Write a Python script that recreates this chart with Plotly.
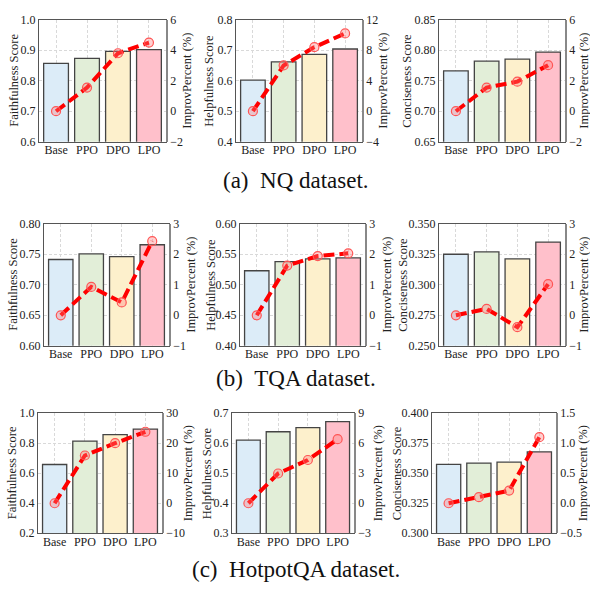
import plotly.graph_objects as go

methods = ["Base", "PPO", "DPO", "LPO"]

# NQ
nq_faith = [0.857, 0.873, 0.896, 0.902]
nq_faith_imp = [0.0, 1.55, 3.8, 4.5]
nq_help = [0.602, 0.662, 0.686, 0.704]
nq_help_imp = [0.0, 6.0, 8.4, 10.2]
nq_conc = [0.766, 0.782, 0.7855, 0.797]
nq_conc_imp = [0.0, 1.55, 1.94, 3.02]
# TQA
tqa_faith = [0.7414, 0.7505, 0.746, 0.7656]
tqa_faith_imp = [0.0, 0.93, 0.42, 2.43]
tqa_help = [0.523, 0.538, 0.5425, 0.544]
tqa_help_imp = [0.0, 1.63, 1.94, 2.03]
tqa_conc = [0.325, 0.3269, 0.3212, 0.335]
tqa_conc_imp = [0.0, 0.21, -0.39, 1.02]
# HotpotQA
hqa_faith = [0.658, 0.814, 0.857, 0.894]
hqa_faith_imp = [0.0, 15.9, 20.0, 23.8]
hqa_help = [0.610, 0.638, 0.652, 0.672]
hqa_help_imp = [0.0, 2.97, 4.32, 6.4]
hqa_conc = [0.3573, 0.3584, 0.3592, 0.3678]
hqa_conc_imp = [0.0, 0.10, 0.21, 1.10]

bar_colors = ["#dcecf8", "#e2eed8", "#fdf0cc", "#ffc0cb"]

panels = [
    (nq_faith, nq_faith_imp, "Faithfulness Score", [0.6, 1.0], 0.1, [-2, 6], 2, ".1f", "d"),
    (nq_help, nq_help_imp, "Helpfulness Score", [0.4, 0.8], 0.1, [-4, 12], 4, ".1f", "d"),
    (nq_conc, nq_conc_imp, "Conciseness Score", [0.65, 0.85], 0.05, [-2, 6], 2, ".2f", "d"),
    (tqa_faith, tqa_faith_imp, "Faithfulness Score", [0.6, 0.8], 0.05, [-1, 3], 1, ".2f", "d"),
    (tqa_help, tqa_help_imp, "Helpfulness Score", [0.4, 0.6], 0.05, [-1, 3], 1, ".2f", "d"),
    (tqa_conc, tqa_conc_imp, "Conciseness Score", [0.25, 0.35], 0.025, [-1, 3], 1, ".3f", "d"),
    (hqa_faith, hqa_faith_imp, "Faithfulness Score", [0.2, 1.0], 0.2, [-10, 30], 10, ".1f", "d"),
    (hqa_help, hqa_help_imp, "Helpfulness Score", [0.3, 0.7], 0.1, [-3, 9], 3, ".1f", "d"),
    (hqa_conc, hqa_conc_imp, "Conciseness Score", [0.3, 0.4], 0.025, [-0.5, 1.5], 0.5, ".3f", ".1f"),
]

W, H = 590, 592
# pixel boxes: x0, x1, y0(top), y1(bottom)
boxes = [
    (39, 166, 13, 138), (236, 362, 13, 138), (439, 565, 13, 138),
    (44, 169, 222, 347), (240, 365, 222, 347), (439, 565, 222, 347),
    (38, 162, 416, 539), (232, 354, 416, 539), (432, 556, 416, 539),
]
# axis title x positions (left, right) in pixels
title_x = [
    (14, 187), (209, 383), (407, 584),
    (13, 191), (211, 387), (403, 584),
    (12, 188), (207, 378), (397, 583),
]

FONT = "Liberation Serif"
tickfont = dict(family=FONT, size=12, color="#222222")
titlefont = dict(family=FONT, size=12.5, color="#222222")
fig = go.Figure()
layout = {}
annotations = []
for i, (vals, imp, ytitle, lr, ldt, rr, rdt, lfmt, rfmt) in enumerate(panels):
    n = i + 1
    xa = f"x{n}"
    ya = f"y{2*n-1}"
    yb = f"y{2*n}"
    x0, x1, t, b = boxes[i]
    xdom = [x0 / W, x1 / W]
    ydom = [1 - b / H, 1 - t / H]
    fig.add_trace(go.Bar(
        x=methods, y=vals, xaxis=xa, yaxis=ya, width=0.8,
        marker=dict(color=bar_colors, line=dict(color="#444444", width=1.3)),
        showlegend=False,
    ))
    fig.add_trace(go.Scatter(
        x=methods, y=imp, xaxis=xa, yaxis=yb, mode="lines+markers",
        line=dict(color="#ff0000", width=4, dash="11px,5px"),
        marker=dict(symbol="circle", size=9, color="rgba(255,120,120,0.35)",
                    line=dict(color="#ff5555", width=1.2)),
        showlegend=False,
    ))
    layout[f"xaxis{n}"] = dict(
        domain=xdom, anchor=ya, range=[-0.55, 3.55], type="category",
        showgrid=True, gridcolor="#d9d9d9", griddash="3px,2px", gridwidth=0.8,
        showline=True, linecolor="#555555", linewidth=1.2, mirror=True,
        tickfont=tickfont, ticks="", zeroline=False, ticklabelstandoff=-3,
    )
    layout[f"yaxis{2*n-1}"] = dict(
        domain=ydom, anchor=xa, range=lr, dtick=ldt, tick0=lr[0], tickformat=lfmt,
        showgrid=True, gridcolor="#d9d9d9", griddash="3px,2px", gridwidth=0.8,
        showline=True, linecolor="#555555", linewidth=1.2, mirror=True,
        tickfont=tickfont, ticks="", zeroline=False,
    )
    layout[f"yaxis{2*n}"] = dict(
        domain=ydom, anchor=xa, overlaying=ya, side="right", range=rr, dtick=rdt,
        tick0=rr[0], tickformat=rfmt, showgrid=False, zeroline=False,
        showline=True, linecolor="#888888", linewidth=1.5,
        tickfont=tickfont, ticks="",
    )
    yc = 1 - ((t + b) / 2) / H
    lx, rx = title_x[i]
    annotations.append(dict(text=ytitle, x=lx / W, y=yc, xref="paper", yref="paper",
                            textangle=-90, showarrow=False, font=titlefont,
                            xanchor="center", yanchor="middle"))
    annotations.append(dict(text="ImprovPercent (%)", x=rx / W, y=yc, xref="paper", yref="paper",
                            textangle=-90, showarrow=False, font=titlefont,
                            xanchor="center", yanchor="middle"))

capfont = dict(family=FONT, size=23, color="#111111")
annotations += [
    dict(text="(a)\u00a0\u00a0NQ dataset.", x=296 / W, y=1 - 178 / H, xref="paper", yref="paper",
         showarrow=False, font=capfont, xanchor="center", yanchor="middle"),
    dict(text="(b)\u00a0\u00a0TQA dataset.", x=296 / W, y=1 - 381 / H, xref="paper", yref="paper",
         showarrow=False, font=capfont, xanchor="center", yanchor="middle"),
    dict(text="(c)\u00a0\u00a0HotpotQA dataset.", x=296 / W, y=1 - 576 / H, xref="paper", yref="paper",
         showarrow=False, font=capfont, xanchor="center", yanchor="middle"),
]

fig.update_layout(
    width=W, height=H, margin=dict(l=0, r=0, t=0, b=0),
    paper_bgcolor="white", plot_bgcolor="white",
    font=dict(family=FONT, size=12), annotations=annotations, bargap=0.2,
    **layout,
)
fig.write_html("out.html", config={"displayModeBar": False},
               post_script="document.body.style.margin='0';")
